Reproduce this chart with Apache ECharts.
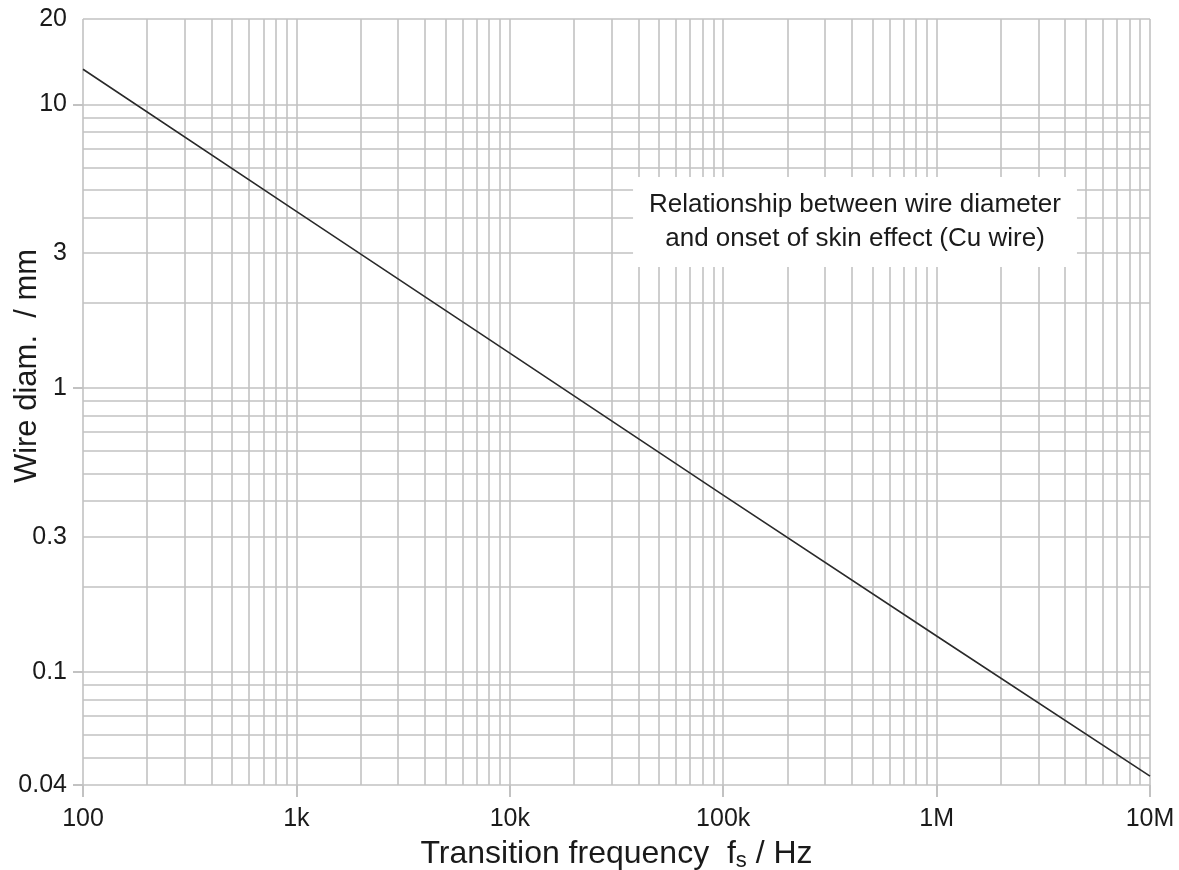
<!DOCTYPE html>
<html>
<head>
<meta charset="utf-8">
<script src="https://cdn.jsdelivr.net/npm/echarts@6/dist/echarts.min.js"></script>
<style>html,body{margin:0;padding:0;background:#fff;}#c{width:1179px;height:870px;}</style>
</head>
<body>
<div id="c"></div>
<script>
// Data
const freq = [100, 1000, 10000, 100000, 1000000, 10000000];
const diam = [13.3, 4.2, 1.33, 0.42, 0.134, 0.043];
const xTickValues = [100, 1000, 10000, 100000, 1000000, 10000000];
const xTickLabels = ['100', '1k', '10k', '100k', '1M', '10M'];
const yLabelValues = [0.04, 0.1, 0.3, 1, 3, 10, 20];
const yLabelTexts = ['0.04', '0.1', '0.3', '1', '3', '10', '20'];
const yTickValues = [0.04, 0.1, 1, 10];
const xGridValues = [];
[100, 1000, 10000, 100000, 1000000].forEach(d => { for (let k = 1; k <= 9; k++) xGridValues.push(d * k); });
xGridValues.push(10000000);
const yGridValues = [0.04, 0.05, 0.06, 0.07, 0.08, 0.09,
  0.1, 0.2, 0.3, 0.4, 0.5, 0.6, 0.7, 0.8, 0.9,
  1, 2, 3, 4, 5, 6, 7, 8, 9, 10, 20];
const noteLines = ['Relationship between wire diameter', 'and onset of skin effect (Cu wire)'];

const FONT = '"Liberation Sans", Arial, sans-serif';
const GRID = '#c2c2c2';

const chart = echarts.init(document.getElementById('c'), null, {renderer: 'canvas'});

const gridMarks = [];
xGridValues.forEach(v => gridMarks.push({xAxis: v}));
yGridValues.forEach(v => gridMarks.push({yAxis: v}));

chart.setOption({
  animation: false,
  backgroundColor: '#ffffff',
  grid: {left: 83, right: 29, top: 19, bottom: 85, containLabel: false, outerBoundsMode: 'none'},
  xAxis: {
    type: 'log', logBase: 10, min: 100, max: 10000000,
    name: 'Transition frequency  f{sub|s} / Hz',
    nameLocation: 'middle', nameGap: 51,
    nameTextStyle: {
      fontFamily: FONT, fontSize: 32, color: '#1a1a1a',
      rich: {sub: {fontFamily: FONT, fontSize: 22, color: '#1a1a1a', padding: [14, 0, 0, 0]}}
    },
    axisLine: {show: false},
    axisTick: {show: true, length: 12, lineStyle: {color: GRID, width: 2}},
    splitLine: {show: false},
    minorTick: {show: false},
    axisLabel: {
      fontFamily: FONT, fontSize: 25, color: '#1a1a1a', margin: 22,
      formatter: function (v) {
        const i = xTickValues.findIndex(t => Math.abs(t - v) / t < 1e-6);
        return i >= 0 ? xTickLabels[i] : '';
      }
    }
  },
  yAxis: {
    type: 'log', logBase: 10, min: 0.04, max: 20,
    axisLine: {show: false},
    axisTick: {show: true, length: 10, lineStyle: {color: GRID, width: 2}, customValues: yTickValues},
    splitLine: {show: false},
    axisLabel: {
      fontFamily: FONT, fontSize: 25, color: '#1a1a1a', margin: 16,
      customValues: yLabelValues,
      formatter: function (v) {
        const i = yLabelValues.findIndex(t => Math.abs(t - v) / t < 1e-6);
        return i >= 0 ? yLabelTexts[i] : '';
      }
    }
  },
  graphic: [
    {
      type: 'text',
      x: 27, y: 366, rotation: Math.PI / 2,
      style: {
        text: 'Wire diam.  / mm', font: '31px ' + FONT, fill: '#1a1a1a',
        align: 'center', verticalAlign: 'middle'
      }
    },
    {
      type: 'text', z: 100,
      x: 855, y: 222,
      style: {
        text: noteLines.join('\n'), font: '26px ' + FONT, fill: '#1a1a1a',
        align: 'center', verticalAlign: 'middle', lineHeight: 34,
        backgroundColor: '#ffffff', padding: [11, 16, 11, 16]
      }
    }
  ],
  series: [{
    type: 'line',
    data: freq.map((f, i) => [f, diam[i]]),
    showSymbol: false, symbol: 'none',
    lineStyle: {color: '#2a2a2a', width: 1.6},
    z: 5,
    markLine: {
      silent: true, symbol: ['none', 'none'], animation: false,
      label: {show: false},
      lineStyle: {color: GRID, width: 1.6, type: 'solid'},
      data: gridMarks,
      z: 1
    }
  }]
});
</script>
</body>
</html>
